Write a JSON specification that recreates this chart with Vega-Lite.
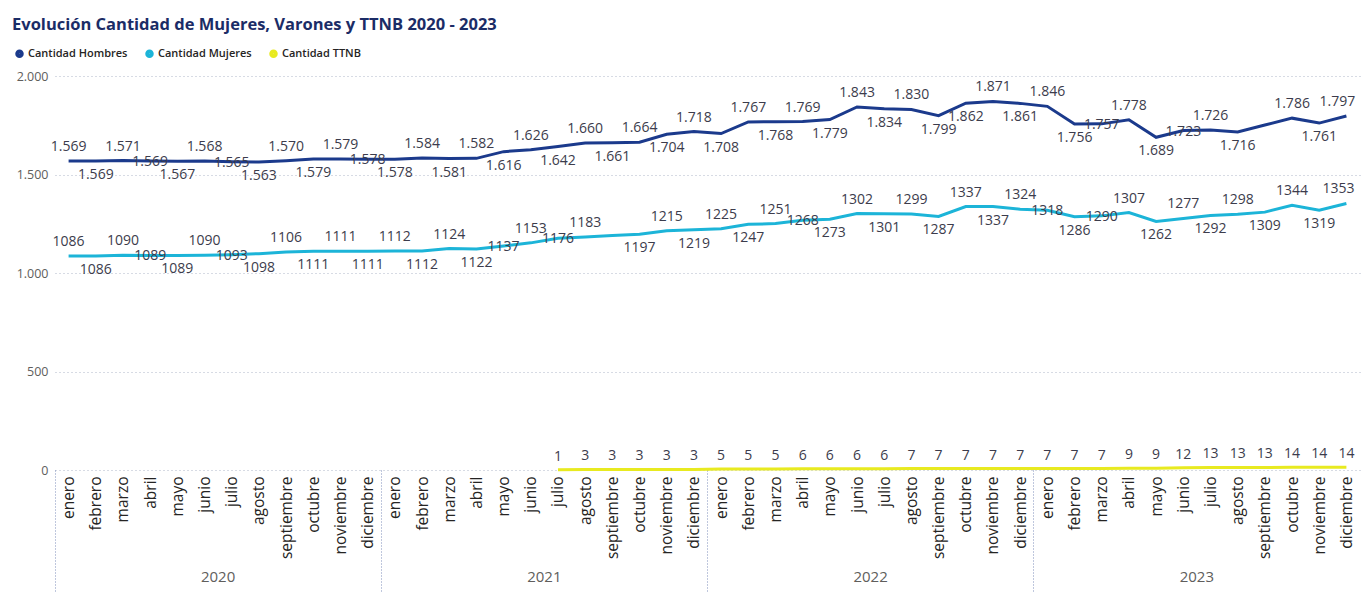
{
  "$schema": "https://vega.github.io/schema/vega-lite/v6.json",
  "autosize": {"type": "none"},
  "width": 1305,
  "height": 394,
  "padding": {"left": 55, "top": 76, "right": 4, "bottom": 123},
  "background": "white",
  "config": {
    "locale": {"number": {"decimal": ",", "thousands": ".", "grouping": [3], "currency": ["", " €"]}},
    "view": {"stroke": null},
    "font": "Open Sans"
  },
  "title": {
    "text": "Evolución Cantidad de Mujeres, Varones y TTNB 2020 - 2023",
    "anchor": "start",
    "frame": "group",
    "dx": -43,
    "fontSize": 16.5,
    "fontWeight": "bold",
    "color": "#1B2C66",
    "font": "Open Sans",
    "offset": 15
  },
  "data": {
    "values": [
      {"m": "2020-01", "Cantidad Hombres": 1569, "Cantidad Mujeres": 1086},
      {"m": "2020-02", "Cantidad Hombres": 1569, "Cantidad Mujeres": 1086},
      {"m": "2020-03", "Cantidad Hombres": 1571, "Cantidad Mujeres": 1090},
      {"m": "2020-04", "Cantidad Hombres": 1569, "Cantidad Mujeres": 1089},
      {"m": "2020-05", "Cantidad Hombres": 1567, "Cantidad Mujeres": 1089},
      {"m": "2020-06", "Cantidad Hombres": 1568, "Cantidad Mujeres": 1090},
      {"m": "2020-07", "Cantidad Hombres": 1565, "Cantidad Mujeres": 1093},
      {"m": "2020-08", "Cantidad Hombres": 1563, "Cantidad Mujeres": 1098},
      {"m": "2020-09", "Cantidad Hombres": 1570, "Cantidad Mujeres": 1106},
      {"m": "2020-10", "Cantidad Hombres": 1579, "Cantidad Mujeres": 1111},
      {"m": "2020-11", "Cantidad Hombres": 1579, "Cantidad Mujeres": 1111},
      {"m": "2020-12", "Cantidad Hombres": 1578, "Cantidad Mujeres": 1111},
      {"m": "2021-01", "Cantidad Hombres": 1578, "Cantidad Mujeres": 1112},
      {"m": "2021-02", "Cantidad Hombres": 1584, "Cantidad Mujeres": 1112},
      {"m": "2021-03", "Cantidad Hombres": 1581, "Cantidad Mujeres": 1124},
      {"m": "2021-04", "Cantidad Hombres": 1582, "Cantidad Mujeres": 1122},
      {"m": "2021-05", "Cantidad Hombres": 1616, "Cantidad Mujeres": 1137},
      {"m": "2021-06", "Cantidad Hombres": 1626, "Cantidad Mujeres": 1153},
      {"m": "2021-07", "Cantidad Hombres": 1642, "Cantidad Mujeres": 1176, "Cantidad TTNB": 1},
      {"m": "2021-08", "Cantidad Hombres": 1660, "Cantidad Mujeres": 1183, "Cantidad TTNB": 3},
      {"m": "2021-09", "Cantidad Hombres": 1661, "Cantidad Mujeres": 1190, "Cantidad TTNB": 3},
      {"m": "2021-10", "Cantidad Hombres": 1664, "Cantidad Mujeres": 1197, "Cantidad TTNB": 3},
      {"m": "2021-11", "Cantidad Hombres": 1704, "Cantidad Mujeres": 1215, "Cantidad TTNB": 3},
      {"m": "2021-12", "Cantidad Hombres": 1718, "Cantidad Mujeres": 1219, "Cantidad TTNB": 3},
      {"m": "2022-01", "Cantidad Hombres": 1708, "Cantidad Mujeres": 1225, "Cantidad TTNB": 5},
      {"m": "2022-02", "Cantidad Hombres": 1767, "Cantidad Mujeres": 1247, "Cantidad TTNB": 5},
      {"m": "2022-03", "Cantidad Hombres": 1768, "Cantidad Mujeres": 1251, "Cantidad TTNB": 5},
      {"m": "2022-04", "Cantidad Hombres": 1769, "Cantidad Mujeres": 1268, "Cantidad TTNB": 6},
      {"m": "2022-05", "Cantidad Hombres": 1779, "Cantidad Mujeres": 1273, "Cantidad TTNB": 6},
      {"m": "2022-06", "Cantidad Hombres": 1843, "Cantidad Mujeres": 1302, "Cantidad TTNB": 6},
      {"m": "2022-07", "Cantidad Hombres": 1834, "Cantidad Mujeres": 1301, "Cantidad TTNB": 6},
      {"m": "2022-08", "Cantidad Hombres": 1830, "Cantidad Mujeres": 1299, "Cantidad TTNB": 7},
      {"m": "2022-09", "Cantidad Hombres": 1799, "Cantidad Mujeres": 1287, "Cantidad TTNB": 7},
      {"m": "2022-10", "Cantidad Hombres": 1862, "Cantidad Mujeres": 1337, "Cantidad TTNB": 7},
      {"m": "2022-11", "Cantidad Hombres": 1871, "Cantidad Mujeres": 1337, "Cantidad TTNB": 7},
      {"m": "2022-12", "Cantidad Hombres": 1861, "Cantidad Mujeres": 1324, "Cantidad TTNB": 7},
      {"m": "2023-01", "Cantidad Hombres": 1846, "Cantidad Mujeres": 1318, "Cantidad TTNB": 7},
      {"m": "2023-02", "Cantidad Hombres": 1756, "Cantidad Mujeres": 1286, "Cantidad TTNB": 7},
      {"m": "2023-03", "Cantidad Hombres": 1757, "Cantidad Mujeres": 1290, "Cantidad TTNB": 7},
      {"m": "2023-04", "Cantidad Hombres": 1778, "Cantidad Mujeres": 1307, "Cantidad TTNB": 9},
      {"m": "2023-05", "Cantidad Hombres": 1689, "Cantidad Mujeres": 1262, "Cantidad TTNB": 9},
      {"m": "2023-06", "Cantidad Hombres": 1723, "Cantidad Mujeres": 1277, "Cantidad TTNB": 12},
      {"m": "2023-07", "Cantidad Hombres": 1726, "Cantidad Mujeres": 1292, "Cantidad TTNB": 13},
      {"m": "2023-08", "Cantidad Hombres": 1716, "Cantidad Mujeres": 1298, "Cantidad TTNB": 13},
      {"m": "2023-09", "Cantidad Hombres": 1751, "Cantidad Mujeres": 1309, "Cantidad TTNB": 13},
      {"m": "2023-10", "Cantidad Hombres": 1786, "Cantidad Mujeres": 1344, "Cantidad TTNB": 14},
      {"m": "2023-11", "Cantidad Hombres": 1761, "Cantidad Mujeres": 1319, "Cantidad TTNB": 14},
      {"m": "2023-12", "Cantidad Hombres": 1797, "Cantidad Mujeres": 1353, "Cantidad TTNB": 14}
    ]
  },
  "layer": [
    {
      "transform": [
        {"fold": ["Cantidad Hombres", "Cantidad Mujeres", "Cantidad TTNB"], "as": ["serie", "valor"]},
        {"filter": "isValid(datum.valor)"},
        {"calculate": "(toNumber(substring(datum.m,0,4))-2020)*12 + toNumber(substring(datum.m,5,7)) - 1", "as": "i"}
      ],
      "encoding": {
        "x": {
          "field": "m",
          "type": "ordinal",
          "scale": {"type": "point", "padding": 0.5},
          "axis": {
            "orient": "bottom",
            "title": null,
            "labelAngle": -90,
            "labelExpr": "['enero','febrero','marzo','abril','mayo','junio','julio','agosto','septiembre','octubre','noviembre','diciembre'][toNumber(substring(datum.value,5,7))-1]",
            "labelFontSize": 15.5,
            "labelFont": "Open Sans",
            "labelColor": "#252423",
            "labelPadding": 6,
            "labelOverlap": false,
            "labelBound": false,
            "ticks": false,
            "domain": false,
            "grid": false
          }
        },
        "y": {
          "field": "valor",
          "type": "quantitative",
          "scale": {"domain": [0, 2000]},
          "axis": {
            "title": null,
            "values": [0, 500, 1000, 1500, 2000],
            "format": ",d",
            "grid": true,
            "gridDash": [1, 3],
            "gridColor": "#AEB6C8",
            "gridWidth": 1,
            "domain": false,
            "ticks": false,
            "labelPadding": 7,
            "labelFontSize": 12.5,
            "labelFont": "Open Sans",
            "labelColor": "#605E5C"
          }
        }
      },
      "layer": [
        {
          "mark": {"type": "line", "strokeWidth": 3},
          "encoding": {
            "color": {
              "field": "serie",
              "type": "nominal",
              "scale": {"domain": ["Cantidad Hombres", "Cantidad Mujeres", "Cantidad TTNB"], "range": ["#1B3A8C", "#1CB4D8", "#E8EA20"]},
              "legend": {
                "title": null,
                "orient": "none",
                "legendX": -41,
                "legendY": -28,
                "direction": "horizontal",
                "symbolType": "circle",
                "symbolSize": 16,
                "symbolStrokeWidth": 4.5,
                "labelFontSize": 11,
                "labelFont": "Open Sans",
                "labelFontWeight": 600,
                "labelColor": "#252423",
                "labelOffset": 3,
                "columnPadding": 10
              }
            }
          }
        },
        {
          "transform": [{"filter": "datum.serie == 'Cantidad Hombres' && datum.i != 47 && indexof([0,2,5,8,10,13,15,17,19,21,23,25,27,29,31,34,36,39,42,45], datum.i) >= 0"}],
          "mark": {"type": "text", "baseline": "bottom", "dy": -7, "fontSize": 14, "font": "Open Sans", "color": "#3C3C4C"},
          "encoding": {"text": {"field": "valor", "type": "quantitative", "format": ",d"}}
        },
        {
          "transform": [{"filter": "datum.serie == 'Cantidad Hombres' && datum.i == 47"}],
          "mark": {"type": "text", "baseline": "bottom", "dy": -7, "dx": -9, "fontSize": 14, "font": "Open Sans", "color": "#3C3C4C"},
          "encoding": {"text": {"field": "valor", "type": "quantitative", "format": ",d"}}
        },
        {
          "transform": [{"filter": "datum.serie == 'Cantidad Hombres' && indexof([3,6,11,38,41], datum.i) >= 0"}],
          "mark": {"type": "text", "baseline": "middle", "dy": 1, "fontSize": 14, "font": "Open Sans", "color": "#3C3C4C"},
          "encoding": {"text": {"field": "valor", "type": "quantitative", "format": ",d"}}
        },
        {
          "transform": [{"filter": "datum.serie == 'Cantidad Hombres' && indexof([0,2,5,8,10,13,15,17,19,21,23,25,27,29,31,34,36,39,42,45,47,3,6,11,38,41,44], datum.i) < 0"}],
          "mark": {"type": "text", "baseline": "top", "dy": 7, "fontSize": 14, "font": "Open Sans", "color": "#3C3C4C"},
          "encoding": {"text": {"field": "valor", "type": "quantitative", "format": ",d"}}
        },
        {
          "transform": [{"filter": "datum.serie == 'Cantidad Mujeres' && indexof([0,2,5,8,10,12,14,17,19,22,24,26,29,31,33,35,39,41,43,45], datum.i) >= 0"}],
          "mark": {"type": "text", "baseline": "bottom", "dy": -7, "fontSize": 14, "font": "Open Sans", "color": "#3C3C4C"},
          "encoding": {"text": {"field": "valor", "type": "quantitative", "format": "d"}}
        },
        {
          "transform": [{"filter": "datum.serie == 'Cantidad Mujeres' && datum.i == 47"}],
          "mark": {"type": "text", "baseline": "bottom", "dy": -7, "dx": -8, "fontSize": 14, "font": "Open Sans", "color": "#3C3C4C"},
          "encoding": {"text": {"field": "valor", "type": "quantitative", "format": "d"}}
        },
        {
          "transform": [{"filter": "datum.serie == 'Cantidad Mujeres' && indexof([3,6,16,18,27,36,38], datum.i) >= 0"}],
          "mark": {"type": "text", "baseline": "middle", "dy": 1, "fontSize": 14, "font": "Open Sans", "color": "#3C3C4C"},
          "encoding": {"text": {"field": "valor", "type": "quantitative", "format": "d"}}
        },
        {
          "transform": [{"filter": "datum.serie == 'Cantidad Mujeres' && indexof([0,2,5,8,10,12,14,17,19,22,24,26,29,31,33,35,39,41,43,45,47,3,6,16,18,27,36,38,20], datum.i) < 0"}],
          "mark": {"type": "text", "baseline": "top", "dy": 7, "fontSize": 14, "font": "Open Sans", "color": "#3C3C4C"},
          "encoding": {"text": {"field": "valor", "type": "quantitative", "format": "d"}}
        },
        {
          "transform": [{"filter": "datum.serie == 'Cantidad TTNB'"}],
          "mark": {"type": "text", "baseline": "bottom", "dy": -6, "fontSize": 14, "font": "Open Sans", "color": "#3C3C4C"},
          "encoding": {"text": {"field": "valor", "type": "quantitative", "format": "d"}}
        }
      ]
    },
    {
      "data": {"values": [{"anio": "2020"}, {"anio": "2021"}, {"anio": "2022"}, {"anio": "2023"}]},
      "mark": {"type": "rule", "opacity": 0},
      "encoding": {
        "x": {
          "field": "anio",
          "type": "ordinal",
          "scale": {"type": "band", "paddingInner": 0, "paddingOuter": 0},
          "axis": {
            "orient": "bottom",
            "title": null,
            "bandPosition": 0,
            "ticks": true,
            "tickSize": 123,
            "tickDash": [1, 2],
            "tickColor": "#7F8FBA",
            "tickWidth": 1,
            "domain": false,
            "grid": false,
            "labelAngle": 0,
            "labelPadding": -24,
            "labelFontSize": 15,
            "labelFont": "Open Sans",
            "labelColor": "#605E5C",
            "labelOverlap": false,
            "labelBound": false,
            "labelFlush": false
          }
        }
      }
    }
  ],
  "resolve": {"scale": {"x": "independent"}, "axis": {"x": "independent"}}
}
